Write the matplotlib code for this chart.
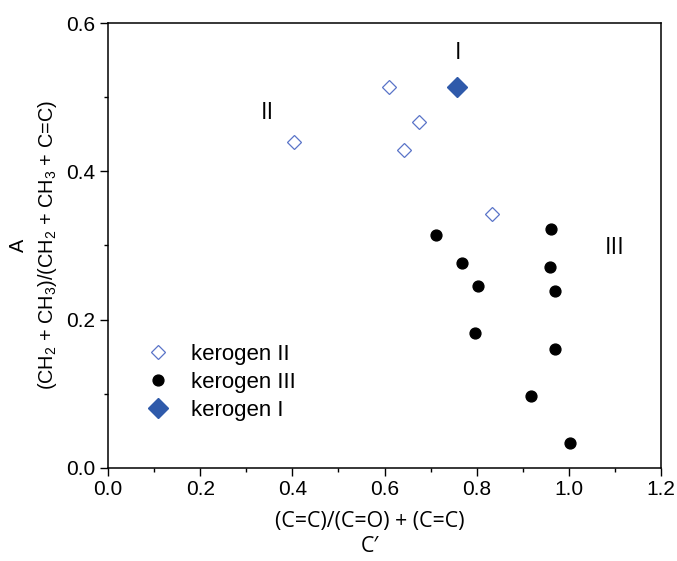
import matplotlib.pyplot as plt
from matplotlib.ticker import MultipleLocator

plt.rcParams['font.family'] = ['Liberation Sans', 'DejaVu Sans']
plt.rcParams['mathtext.fontset'] = 'custom'
plt.rcParams['mathtext.rm'] = 'Liberation Sans'

# kerogen II (open diamonds)
k2_x = [0.610, 0.404, 0.675, 0.642, 0.833]
k2_y = [0.514, 0.440, 0.466, 0.429, 0.342]

# kerogen III (black dots)
k3_x = [0.712, 0.961, 0.768, 0.959, 0.803, 0.970, 0.796, 0.970, 0.918, 1.003]
k3_y = [0.314, 0.322, 0.276, 0.271, 0.245, 0.239, 0.182, 0.160, 0.097, 0.034]

# kerogen I (filled diamond)
k1_x = [0.757]
k1_y = [0.514]

# group labels
grp_text = ['I', 'II', 'III']
grp_x = [0.760, 0.345, 1.10]
grp_y = [0.560, 0.478, 0.297]

fig = plt.figure(figsize=(6.77, 5.61), dpi=100)
ax = fig.add_axes([0.1595, 0.166, 0.8170, 0.793])

ax.plot(k2_x, k2_y, 'D', ls='none', ms=7.4, mfc='white', mec='#5a74c8',
        mew=0.9, label='kerogen II')
ax.plot(k3_x, k3_y, 'o', ls='none', ms=7.8, color='black', label='kerogen III')
ax.plot(k1_x, k1_y, 'D', ls='none', ms=9.8, color='#2f5aaa', label='kerogen I')

for t, x, y in zip(grp_text, grp_x, grp_y):
    ax.text(x, y, t, fontsize=17, family='Open Sans', ha='center', va='center')

ax.set_xlim(0, 1.2)
ax.set_ylim(0, 0.6)
ax.xaxis.set_major_locator(MultipleLocator(0.2))
ax.xaxis.set_minor_locator(MultipleLocator(0.1))
ax.yaxis.set_major_locator(MultipleLocator(0.2))
ax.yaxis.set_minor_locator(MultipleLocator(0.1))
ax.xaxis.set_major_formatter(plt.FormatStrFormatter('%.1f'))
ax.yaxis.set_major_formatter(plt.FormatStrFormatter('%.1f'))

ax.tick_params(which='major', direction='out', length=6, width=1.0,
               labelsize=15, pad=3, top=False, right=False)
ax.tick_params(which='minor', direction='out', length=3, width=1.0,
               top=False, right=False)
for s in ax.spines.values():
    s.set_linewidth(1.1)

ax.set_xlabel("(C=C)/(C=O) + (C=C)\nC\u2032", family='Open Sans', fontsize=15.4,
              linespacing=1.2)
ax.xaxis.set_label_coords(0.474, -0.098)
ax.set_ylabel("A\n(CH$_2$ + CH$_3$)/(CH$_2$ + CH$_3$ + C=C)", fontsize=14.3,
              linespacing=1.5)
ax.yaxis.set_label_coords(-0.088, 0.5)

ax.legend(loc='upper left', bbox_to_anchor=(0.034, 0.323), frameon=False,
          fontsize=16, handlelength=1, handletextpad=1.0, labelspacing=0.3,
          borderpad=0.4)

fig.savefig('out.png', dpi=100)
